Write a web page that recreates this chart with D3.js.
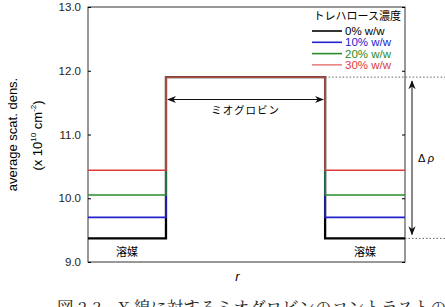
<!DOCTYPE html>
<html>
<head>
<meta charset="utf-8">
<script src="https://cdn.jsdelivr.net/npm/d3@7"></script>
<style>
  body { margin: 0; background: #fff; }
  svg { display: block; font-family: "Liberation Sans", Arial, sans-serif; }
  .jp { font-family: "Noto Sans CJK JP", sans-serif; }
</style>
</head>
<body>
<svg id="chart"></svg>
<script>
// step profile: solvent | protein | solvent
const seriesNames = ['0% w/w', '10% w/w', '20% w/w', '30% w/w'];
const solventLevels = [9.37, 9.70, 10.05, 10.44];
const proteinLevel = 11.9;
const stepEdges = [0, 0.246, 0.748, 1];
const colors = ['#000000', '#2222cc', '#2a8a2a', '#dd3b3b'];
const yTicks = [9.0, 10.0, 11.0, 12.0, 13.0];

const width = 445, height = 307;
const m = { left: 88, right: 40, top: 7, bottom: 45 };

const svg = d3.select('#chart').attr('width', width).attr('height', height);

const x = d3.scaleLinear().domain([0, 1]).range([m.left, width - m.right]);
const y = d3.scaleLinear().domain([9, 13]).range([height - m.bottom, m.top]);

// frame
svg.append('rect')
  .attr('x', x(0)).attr('y', y(13))
  .attr('width', x(1) - x(0)).attr('height', y(9) - y(13))
  .attr('fill', 'none').attr('stroke', '#333').attr('stroke-width', 1);

const yAxis = svg.append('g')
  .attr('transform', `translate(${x(0)},0)`)
  .call(d3.axisRight(y).tickValues(yTicks).tickSize(3).tickFormat(''));
yAxis.select('.domain').remove();

const yAxisR = svg.append('g')
  .attr('transform', `translate(${x(1)},0)`)
  .call(d3.axisLeft(y).tickValues(yTicks).tickSize(3).tickFormat(''));
yAxisR.select('.domain').remove();

svg.selectAll('.ylab')
  .data(yTicks)
  .enter().append('text')
    .attr('x', x(0) - 7)
    .attr('y', d => y(d) + 4)
    .attr('text-anchor', 'end')
    .attr('font-size', 11.5)
    .attr('fill', '#222')
    .text(d => d.toFixed(1));

// step lines
const stepPath = lvl => {
  const pts = [
    [stepEdges[0], lvl], [stepEdges[1], lvl], [stepEdges[1], proteinLevel],
    [stepEdges[2], proteinLevel], [stepEdges[2], lvl], [stepEdges[3], lvl]
  ];
  return d3.line().x(d => x(d[0])).y(d => y(d[1]))(pts);
};
const widths = [2.3, 1.7, 1.5, 1.4];
solventLevels.forEach((lvl, i) => {
  svg.append('path')
    .attr('d', stepPath(lvl))
    .attr('fill', 'none')
    .attr('stroke', colors[i])
    .attr('stroke-width', widths[i]);
});

// legend
const lg = svg.append('g');
lg.append('text')
  .attr('class', 'jp')
  .attr('x', 401).attr('y', 20)
  .attr('text-anchor', 'end')
  .attr('font-size', 11)
  .text('トレハロース濃度');
seriesNames.forEach((s, i) => {
  const yy = 31 + i * 11.3;
  lg.append('line')
    .attr('x1', 312).attr('x2', 342).attr('y1', yy).attr('y2', yy)
    .attr('stroke', colors[i]).attr('stroke-width', i === 3 ? 1 : 1.6);
  lg.append('text')
    .attr('x', 345).attr('y', yy + 4)
    .attr('font-size', 11.5)
    .attr('fill', colors[i])
    .text(s);
});

// arrows
const defs = svg.append('defs');
defs.append('marker')
  .attr('id', 'ah').attr('viewBox', '0 0 10 10')
  .attr('refX', 9).attr('refY', 5)
  .attr('markerWidth', 9).attr('markerHeight', 9)
  .attr('markerUnits', 'userSpaceOnUse')
  .attr('orient', 'auto-start-reverse')
  .append('path').attr('d', 'M0,1 L10,5 L0,9 L3,5 Z').attr('fill', '#111');

const arrowY = 99.5;
svg.append('line')
  .attr('x1', x(stepEdges[1]) + 2).attr('x2', x(stepEdges[2]) - 2)
  .attr('y1', arrowY).attr('y2', arrowY)
  .attr('stroke', '#111').attr('stroke-width', 1)
  .attr('marker-start', 'url(#ah)').attr('marker-end', 'url(#ah)');
svg.append('text')
  .attr('class', 'jp')
  .attr('x', (x(stepEdges[1]) + x(stepEdges[2])) / 2).attr('y', 114)
  .attr('text-anchor', 'middle')
  .attr('font-size', 10.5).attr('letter-spacing', 1)
  .text('ミオグロビン');

// dotted guides
svg.append('line')
  .attr('x1', x(stepEdges[2])).attr('x2', width)
  .attr('y1', y(proteinLevel)).attr('y2', y(proteinLevel))
  .attr('stroke', '#666').attr('stroke-width', 1).attr('stroke-dasharray', '1.5,2');
svg.append('line')
  .attr('x1', x(1)).attr('x2', width)
  .attr('y1', y(solventLevels[0])).attr('y2', y(solventLevels[0]))
  .attr('stroke', '#666').attr('stroke-width', 1).attr('stroke-dasharray', '1.5,2');

const dx = 412;
svg.append('line')
  .attr('x1', dx).attr('x2', dx)
  .attr('y1', y(proteinLevel) + 4).attr('y2', y(solventLevels[0]) - 4)
  .attr('stroke', '#111').attr('stroke-width', 1)
  .attr('marker-start', 'url(#ah)').attr('marker-end', 'url(#ah)');
const dr = svg.append('text')
  .attr('x', 418).attr('y', 162)
  .attr('font-size', 11);
dr.append('tspan').text('Δ ');
dr.append('tspan').attr('font-style', 'italic').text('ρ');

// solvent labels
[(stepEdges[0] + stepEdges[1]) / 2, (stepEdges[2] + stepEdges[3]) / 2].forEach(v => {
  svg.append('text')
    .attr('class', 'jp')
    .attr('x', x(v)).attr('y', 256)
    .attr('text-anchor', 'middle')
    .attr('font-size', 11)
    .text('溶媒');
});

// axis titles
svg.append('text')
  .attr('x', (x(0) + x(1)) / 2 - 9).attr('y', 281)
  .attr('text-anchor', 'middle')
  .attr('font-size', 13).attr('font-style', 'italic')
  .text('r');

const cy = (y(9) + y(13)) / 2;
svg.append('text')
  .attr('transform', `translate(17,${cy}) rotate(-90)`)
  .attr('text-anchor', 'middle')
  .attr('font-size', 13)
  .text('average scat. dens.');
const t2 = svg.append('text')
  .attr('transform', `translate(42,${cy + 1}) rotate(-90)`)
  .attr('text-anchor', 'middle')
  .attr('font-size', 13);
t2.append('tspan').text('(x 10');
t2.append('tspan').attr('font-size', 8).attr('dy', -6).text('10');
t2.append('tspan').attr('dy', 6).text(' cm');
t2.append('tspan').attr('font-size', 8).attr('dy', -6).text('-2');
t2.append('tspan').attr('dy', 6).text(')');

// caption (cut off by the page bottom, as in the source)
svg.append('text')
  .attr('x', 57).attr('y', 314)
  .attr('font-size', 16.5)
  .attr('font-family', '"Noto Serif CJK JP", "Noto Sans CJK JP", serif')
  .attr('fill', '#222')
  .text('図 2.3　X 線に対するミオグロビンのコントラストの');
</script>
</body>
</html>
